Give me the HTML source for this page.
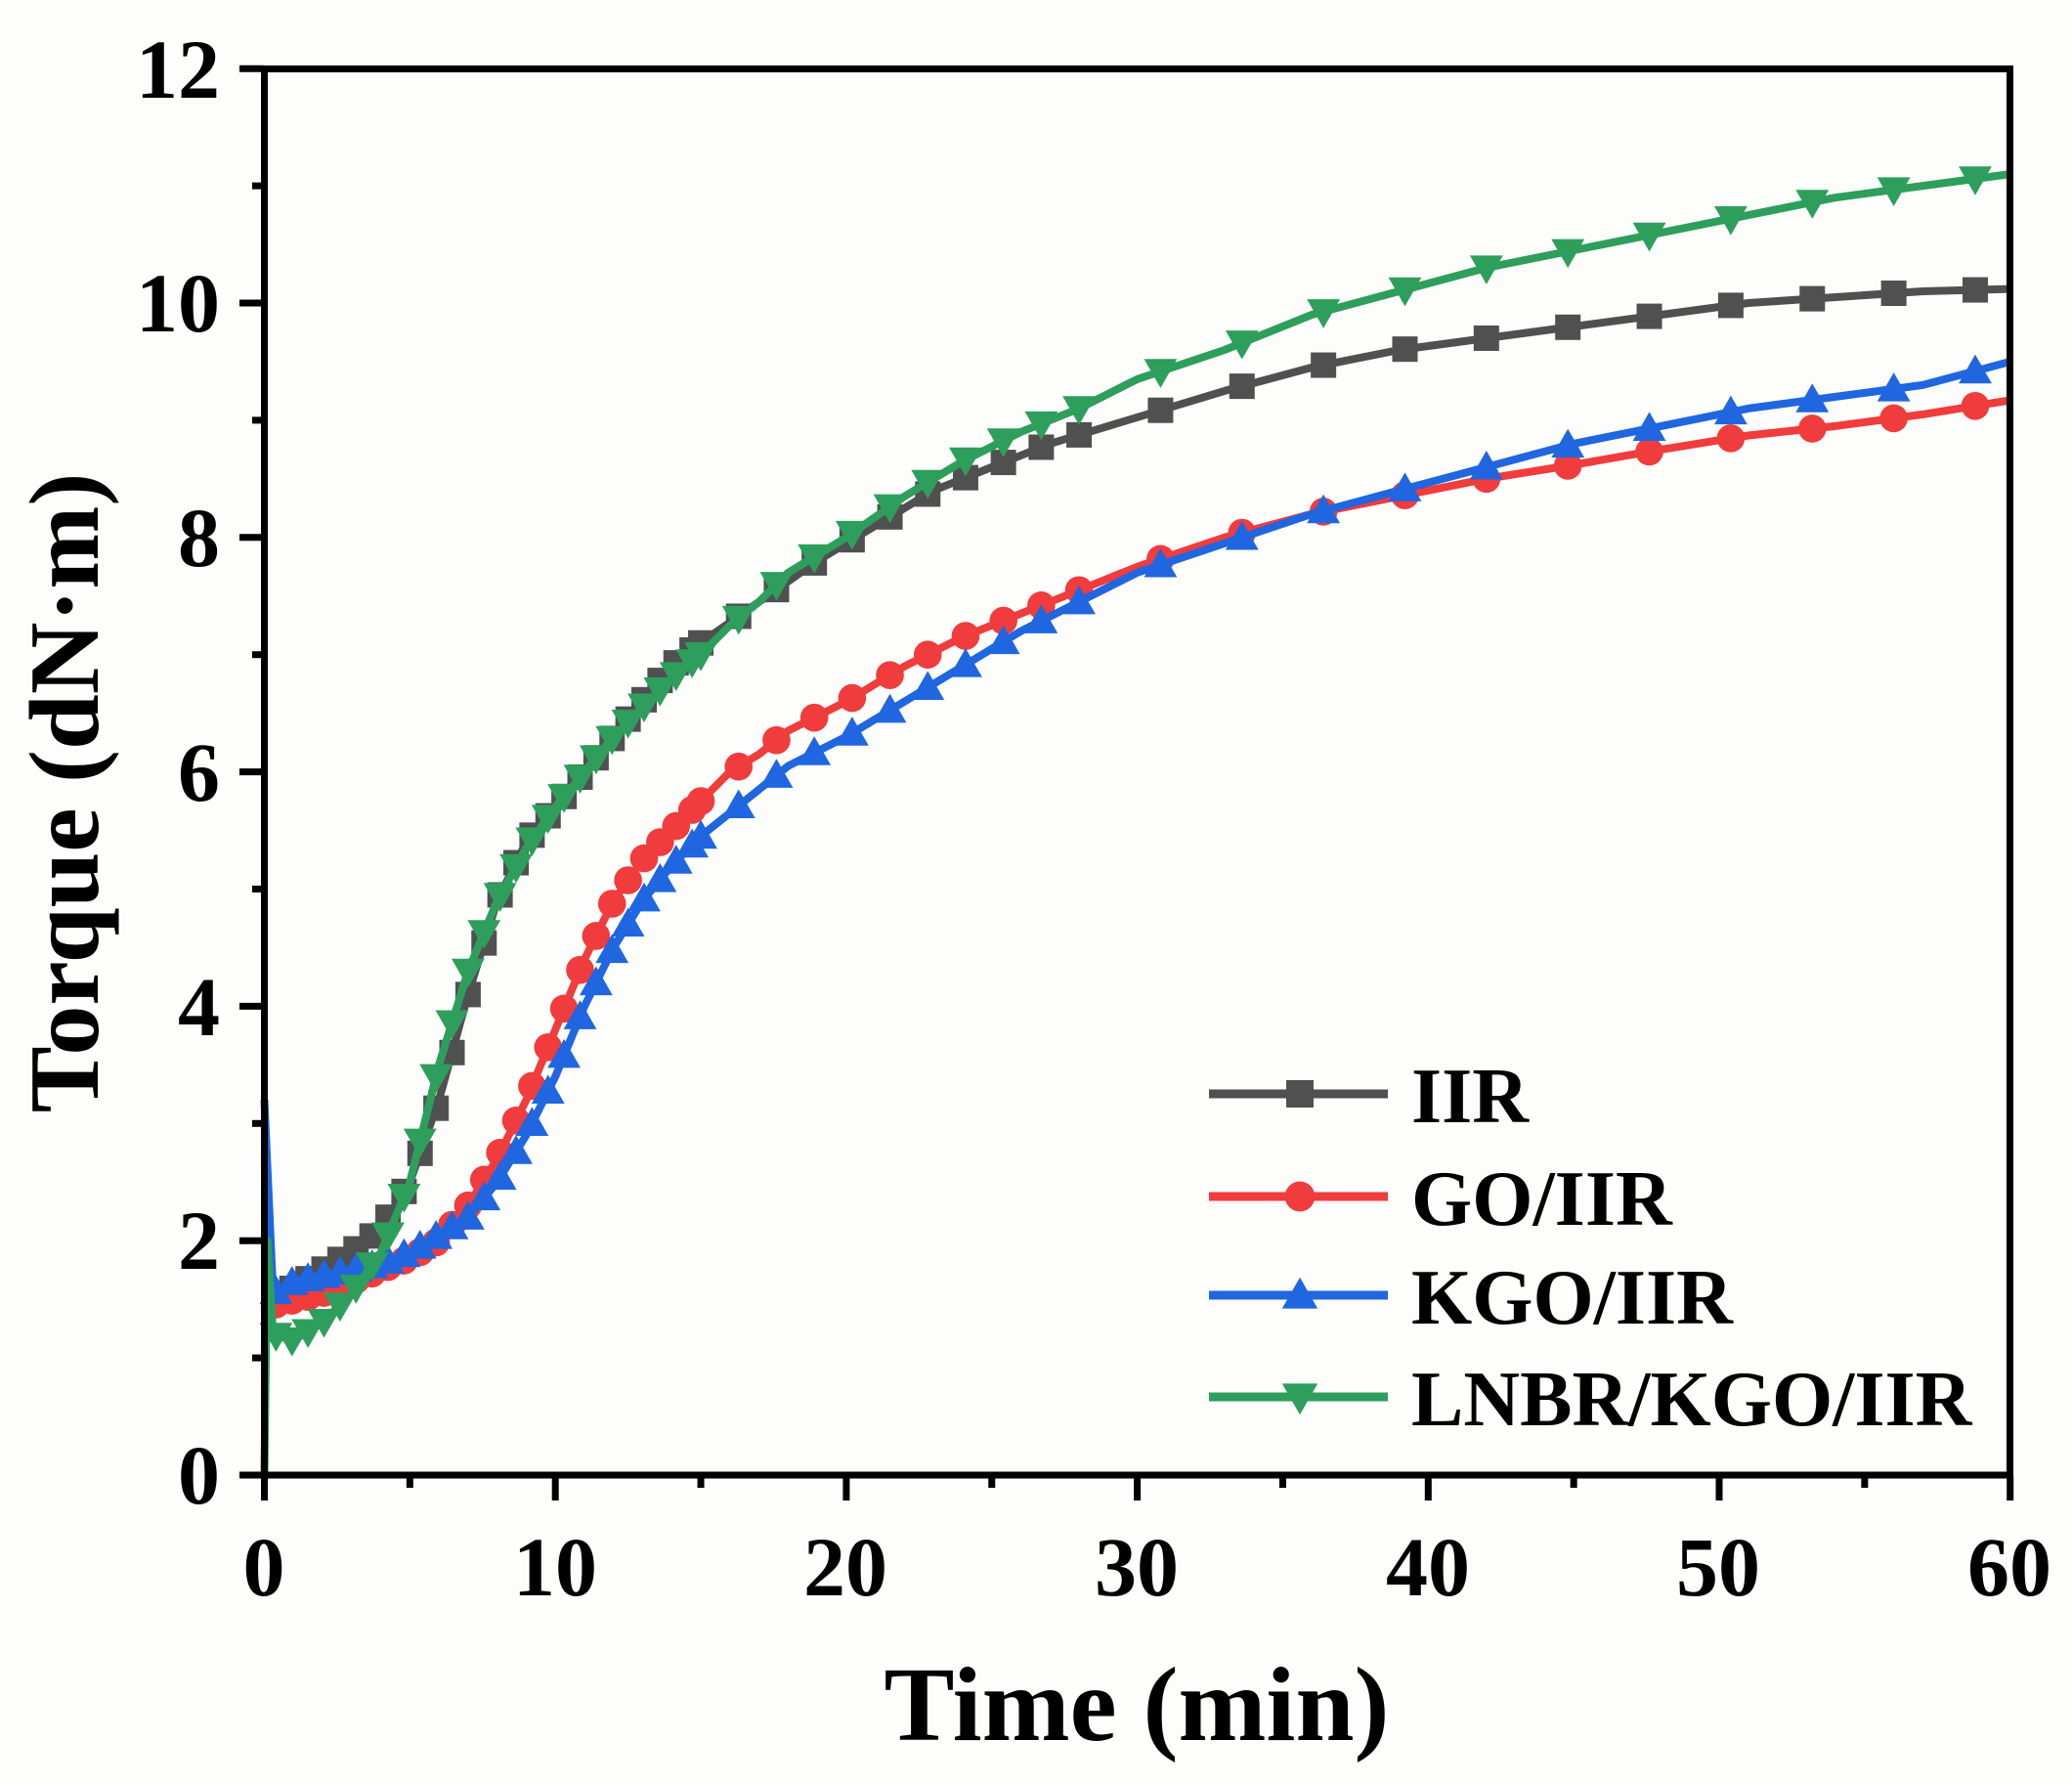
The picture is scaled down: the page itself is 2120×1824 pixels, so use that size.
<!DOCTYPE html>
<html><head><meta charset="utf-8"><style>
html,body{margin:0;padding:0;background:#fff;}
svg{display:block;}
text{font-family:"Liberation Serif","Times New Roman",serif;font-weight:bold;fill:#000;}
</style></head><body>
<svg id="s" width="2120" height="1824" viewBox="0 0 2120 1824" xmlns="http://www.w3.org/2000/svg">
<rect width="2120" height="1824" fill="#fdfdfb"/>
<g id="plot"></g>
<rect x="270.5" y="70.5" width="1786" height="1438.5" fill="none" stroke="#000" stroke-width="7"/>
<g id="ticks" stroke="#000" stroke-width="7"></g>
<g font-size="86" text-anchor="end">
<text x="225" y="1538">0</text><text x="225" y="1298">2</text><text x="225" y="1059">4</text>
<text x="225" y="819">6</text><text x="225" y="579">8</text><text x="225" y="339">10</text><text x="225" y="100">12</text>
</g>
<g font-size="86" text-anchor="middle">
<text x="270" y="1632">0</text><text x="568" y="1632">10</text><text x="865" y="1632">20</text>
<text x="1163" y="1632">30</text><text x="1461" y="1632">40</text><text x="1758" y="1632">50</text><text x="2056" y="1632">60</text>
</g>
<text x="1163" y="1780" font-size="108" text-anchor="middle">Time (min)</text>
<text transform="translate(100,811) rotate(-90)" font-size="102" text-anchor="middle">Torque (dN·m)</text>
<g id="legend"></g>
<g font-size="80">
<text x="1444" y="1148">IIR</text><text x="1444" y="1253">GO/IIR</text>
<text x="1444" y="1354">KGO/IIR</text><text x="1444" y="1458">LNBR/KGO/IIR</text>
</g>
</svg>
<script>
const X=x=>270.5+x*29.77, Y=y=>1509-y*119.9;
const NS="http://www.w3.org/2000/svg";
const tk=document.getElementById('ticks');
function ln(p,x1,y1,x2,y2,c,w){const l=document.createElementNS(NS,'line');l.setAttribute('x1',x1);l.setAttribute('y1',y1);l.setAttribute('x2',x2);l.setAttribute('y2',y2);if(c){l.setAttribute('stroke',c);l.setAttribute('stroke-width',w);}p.appendChild(l);}
for(let i=0;i<=12;i++){ln(tk,270,Y(i),i%2?258:245,Y(i));}
for(let i=0;i<=60;i+=5){ln(tk,X(i),1509,X(i),i%10?1522:1535);}
const S={
IIR:{c:"#505050",m:"sq",d:[[0,1.5],[0.3,1.5],[1,1.6],[2,1.75],[3,1.9],[4,2.1],[5,2.5],[6,3.2],[7,4.1],[8,4.9],[9,5.4],[10,5.7],[11,6.0],[12,6.3],[13,6.6],[14,6.9],[15,7.1],[17,7.45],[19,7.8],[21,8.1],[23,8.4],[25,8.6],[27,8.8],[29,8.95],[31,9.1],[33,9.25],[36,9.45],[39,9.6],[42,9.7],[45,9.8],[48,9.9],[51,10.0],[54,10.05],[57,10.1],[60,10.12]]},
GO:{c:"#f03c3c",m:"ci",d:[[0,1.4],[0.3,1.45],[2,1.55],[4,1.75],[5,1.85],[6,2.0],[7,2.3],[8,2.7],[9,3.2],[10,3.8],[11,4.4],[12,4.9],[13,5.25],[14,5.5],[15,5.75],[16,6.0],[17,6.15],[18,6.35],[20,6.6],[22,6.9],[24,7.15],[26,7.35],[28,7.55],[30,7.75],[33,8.0],[36,8.2],[39,8.35],[42,8.5],[45,8.62],[48,8.75],[51,8.87],[54,8.95],[57,9.05],[60,9.17]]},
KGO:{c:"#1f66e0",m:"up",d:[[0,3.2],[0.3,1.55],[1,1.65],[2,1.7],[3,1.75],[4,1.8],[5,1.9],[6,2.05],[7,2.2],[8,2.5],[9,2.9],[10,3.4],[11,4.0],[12,4.5],[13,4.9],[14,5.2],[15,5.45],[16,5.65],[17,5.85],[18,6.05],[20,6.3],[22,6.6],[24,6.9],[26,7.2],[28,7.45],[30,7.7],[33,7.95],[36,8.2],[39,8.4],[42,8.6],[45,8.8],[48,8.95],[51,9.1],[54,9.2],[57,9.3],[60,9.5]]},
LN:{c:"#2e9e5c",m:"dn",d:[[0,0],[0.1,2.0],[0.3,1.2],[1,1.15],[2,1.3],[3,1.55],[4,1.9],[5,2.5],[6,3.5],[7,4.3],[8,4.9],[9,5.35],[10,5.7],[11,6.0],[12,6.3],[13,6.55],[14,6.8],[15,7.0],[16,7.25],[17,7.45],[18,7.7],[20,8.0],[22,8.35],[24,8.65],[26,8.9],[28,9.1],[30,9.35],[33,9.6],[36,9.9],[39,10.1],[42,10.3],[45,10.45],[48,10.6],[51,10.75],[54,10.9],[57,11.0],[60,11.1]]}};
function interp(d,x){for(let i=1;i<d.length;i++){if(x<=d[i][0]){const a=d[i-1],b=d[i];return a[1]+(b[1]-a[1])*(x-a[0])/(b[0]-a[0]);}}return d[d.length-1][1];}
function marker(p,t,cx,cy,c,s){let e;if(t=="sq"){e=document.createElementNS(NS,'rect');e.setAttribute('x',cx-s);e.setAttribute('y',cy-s);e.setAttribute('width',2*s);e.setAttribute('height',2*s);}
else if(t=="ci"){e=document.createElementNS(NS,'circle');e.setAttribute('cx',cx);e.setAttribute('cy',cy);e.setAttribute('r',s*1.1);}
else{e=document.createElementNS(NS,'polygon');const k=s*1.3;if(t=="up")e.setAttribute('points',`${cx},${cy-k} ${cx-k},${cy+k*0.75} ${cx+k},${cy+k*0.75}`);else e.setAttribute('points',`${cx},${cy+k} ${cx-k},${cy-k*0.75} ${cx+k},${cy-k*0.75}`);}
e.setAttribute('fill',c);p.appendChild(e);}
const pl=document.getElementById('plot');
for(const k in S){const s=S[k];const g=document.createElementNS(NS,'g');pl.appendChild(g);
const path=document.createElementNS(NS,'path');path.setAttribute('d','M'+s.d.map(p=>X(p[0]).toFixed(1)+','+Y(p[1]).toFixed(1)).join('L'));path.setAttribute('fill','none');path.setAttribute('stroke',s.c);path.setAttribute('stroke-width',8);path.setAttribute('stroke-linejoin','round');g.appendChild(path);
let xs=[];for(let x=0.4;x<15;x+=0.55)xs.push(x);for(let x=15;x<28;x+=1.3)xs.push(x);for(let x=28;x<60;x+=2.8)xs.push(x);
xs.forEach(x=>marker(g,s.m,X(x),Y(interp(s.d,x)),s.c,13));}
const lg=document.getElementById('legend');const ys=[1119,1224,1325,1429];
Object.keys(S).forEach((k,i)=>{const s=S[k];ln(lg,1237,ys[i],1420,ys[i],s.c,9);marker(lg,s.m,1330,ys[i],s.c,14);});
</script>
</body></html>
